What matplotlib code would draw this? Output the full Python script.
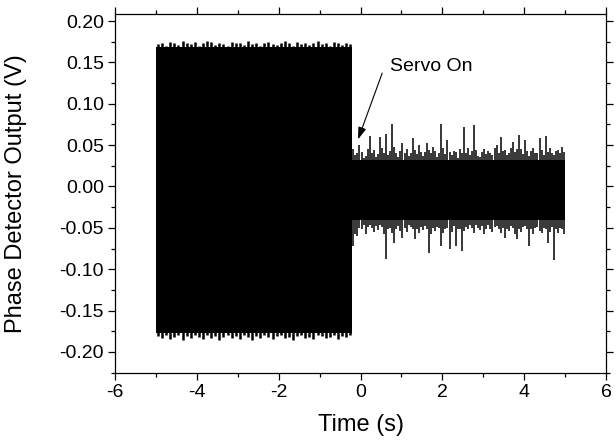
import numpy as np
import matplotlib.pyplot as plt
from matplotlib.ticker import MultipleLocator, FormatStrFormatter

plt.rcParams['font.family'] = ['Liberation Sans', 'DejaVu Sans']
plt.rcParams['axes.unicode_minus'] = False

# envelope of the phase detector trace
# servo off: -5.0 s ... -0.2 s, 0.1 s bins
t_off_start = -5.0
dt_off = 0.1
off_hi = [0.172, 0.174, 0.170, 0.175, 0.173, 0.171, 0.176, 0.174, 0.172, 0.175,
          0.170, 0.173, 0.176, 0.175, 0.171, 0.174, 0.172, 0.170, 0.175, 0.173,
          0.174, 0.171, 0.176, 0.172, 0.174, 0.170, 0.173, 0.175, 0.172, 0.171,
          0.174, 0.176, 0.173, 0.170, 0.175, 0.172, 0.174, 0.171, 0.173, 0.176,
          0.172, 0.174, 0.170, 0.175, 0.173, 0.171, 0.174, 0.172]
off_lo = [-0.181, -0.183, -0.179, -0.184, -0.182, -0.180, -0.185, -0.181, -0.183, -0.179,
          -0.182, -0.184, -0.180, -0.183, -0.181, -0.185, -0.182, -0.179, -0.183, -0.181,
          -0.184, -0.180, -0.182, -0.185, -0.181, -0.183, -0.179, -0.182, -0.184, -0.181,
          -0.180, -0.183, -0.182, -0.185, -0.181, -0.179, -0.183, -0.182, -0.184, -0.180,
          -0.181, -0.183, -0.182, -0.180, -0.184, -0.181, -0.182, -0.180]
off_core = (-0.177, 0.168)

# servo on: -0.2 s ... 5.0 s, 0.05 s bins
t_on_start = -0.2
dt_on = 0.05
on_hi = [0.045, 0.038, 0.040, 0.050, 0.042, 0.035, 0.037, 0.045, 0.061, 0.040,
         0.044, 0.036, 0.039, 0.060, 0.046, 0.041, 0.064, 0.038, 0.043, 0.076,
         0.048, 0.040, 0.036, 0.043, 0.052, 0.041, 0.045, 0.037, 0.040, 0.058,
         0.044, 0.039, 0.050, 0.042, 0.037, 0.042, 0.052, 0.044, 0.041, 0.048,
         0.043, 0.036, 0.040, 0.076, 0.046, 0.039, 0.056, 0.042, 0.038, 0.043,
         0.042, 0.035, 0.045, 0.040, 0.072, 0.041, 0.047, 0.038, 0.043, 0.074,
         0.044, 0.037, 0.036, 0.042, 0.045, 0.039, 0.043, 0.040, 0.038, 0.046,
         0.050, 0.041, 0.060, 0.043, 0.044, 0.038, 0.040, 0.047, 0.054, 0.042,
         0.045, 0.062, 0.045, 0.039, 0.056, 0.043, 0.037, 0.043, 0.047, 0.041,
         0.040, 0.058, 0.044, 0.038, 0.061, 0.042, 0.046, 0.040, 0.038, 0.043,
         0.044, 0.040, 0.048, 0.042]
on_lo = [-0.072, -0.058, -0.060, -0.050, -0.052, -0.047, -0.058, -0.049, -0.046, -0.050,
         -0.055, -0.048, -0.053, -0.047, -0.049, -0.058, -0.088, -0.052, -0.050, -0.056,
         -0.068, -0.051, -0.048, -0.054, -0.062, -0.050, -0.055, -0.047, -0.049, -0.052,
         -0.064, -0.051, -0.056, -0.049, -0.053, -0.048, -0.052, -0.080, -0.057, -0.050,
         -0.054, -0.049, -0.050, -0.072, -0.056, -0.051, -0.050, -0.076, -0.055, -0.048,
         -0.072, -0.052, -0.051, -0.078, -0.054, -0.049, -0.052, -0.047, -0.050, -0.056,
         -0.047, -0.050, -0.053, -0.048, -0.058, -0.051, -0.046, -0.051, -0.055, -0.049,
         -0.048, -0.052, -0.056, -0.050, -0.062, -0.051, -0.054, -0.048, -0.050, -0.057,
         -0.064, -0.052, -0.055, -0.049, -0.048, -0.052, -0.072, -0.051, -0.058, -0.050,
         -0.049, -0.054, -0.056, -0.050, -0.051, -0.068, -0.055, -0.049, -0.089, -0.052,
         -0.056, -0.050, -0.051, -0.058]
on_core = (-0.040, 0.032)


def main():
    fig = plt.figure(figsize=(6.16, 4.44), dpi=100)
    ax = fig.add_axes([0.1867, 0.1599, 0.7971, 0.8086])

    # servo off part
    t_off = t_off_start + dt_off * (np.arange(len(off_hi)) + 0.5)
    t_off_end = t_off_start + dt_off * len(off_hi)
    ax.fill_between([t_off_start, t_off_end], off_core[0], off_core[1], color='k', lw=0)
    ax.vlines(t_off, off_lo, off_hi, colors='k', lw=1.8)

    # servo on part
    t_on = t_on_start + dt_on * (np.arange(len(on_hi)) + 0.5)
    t_on_end = t_on_start + dt_on * len(on_hi)
    ax.fill_between([t_on_start, t_on_end], on_core[0], on_core[1], color='k', lw=0)
    ax.vlines(t_on, on_lo, on_hi, colors='k', lw=1.1)

    ax.annotate('', xy=(-0.06, 0.057), xytext=(0.53, 0.137),
                arrowprops=dict(arrowstyle='-|>,head_length=0.6,head_width=0.2',
                                color='k', lw=0.8, mutation_scale=12,
                                shrinkA=0, shrinkB=0))
    ax.text(0.72, 0.145, 'Servo On', fontsize=14, ha='left', va='center')

    ax.set_xlim(-6, 6)
    ax.set_ylim(-0.2255, 0.2085)
    ax.xaxis.set_major_locator(MultipleLocator(2))
    ax.xaxis.set_minor_locator(MultipleLocator(1))
    ax.yaxis.set_major_locator(MultipleLocator(0.05))
    ax.yaxis.set_minor_locator(MultipleLocator(0.025))
    ax.yaxis.set_major_formatter(FormatStrFormatter('%.2f'))
    ax.tick_params(which='both', direction='out', top=True, right=True,
                   width=0.9, labelsize=14, pad=3)
    ax.tick_params(which='major', length=5)
    ax.tick_params(which='minor', length=3)
    for sp in ax.spines.values():
        sp.set_linewidth(0.9)

    ax.set_xlabel('Time (s)', fontsize=17)
    ax.set_ylabel('Phase Detector Output (V)', fontsize=17)
    ax.yaxis.set_label_coords(-0.179, 0.5)
    ax.xaxis.set_label_coords(0.5, -0.115)

    fig.savefig('out.png', dpi=100)
    return


if __name__ == "__main__":
    main()
